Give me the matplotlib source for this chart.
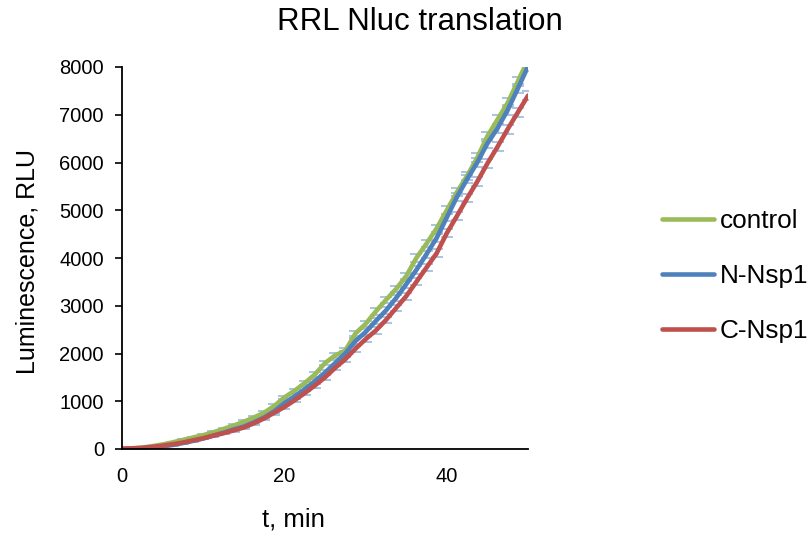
import numpy as np
import matplotlib.pyplot as plt

plt.rcParams["font.family"] = ["Liberation Sans", "DejaVu Sans"]

# time points, min (reading every 75 s)
t_min = [0, 1.25, 2.5, 3.75, 5, 6.25, 7.5, 8.75, 10, 11.25,
         12.5, 13.75, 15, 16.25, 17.5, 18.75, 20, 21.25, 22.5, 23.75,
         25, 26.25, 27.5, 28.75, 30, 31.25, 32.5, 33.75, 35, 36.25,
         37.5, 38.75, 40, 41.25, 42.5, 43.75, 45, 46.25, 47.5, 48.75, 50]

control = [0, 10, 30, 60, 95, 140, 190, 240, 290, 350,
           420, 490, 570, 660, 760, 900, 1080, 1220, 1380, 1560,
           1800, 1960, 2060, 2420, 2620, 2880, 3120, 3350, 3620, 4000,
           4300, 4620, 5000, 5380, 5720, 6100, 6550, 6900, 7250, 7700, 8150]

n_nsp1 = [-10, -5, 10, 30, 55, 85, 125, 170, 220, 280,
          340, 410, 470, 560, 660, 790, 960, 1100, 1250, 1420,
          1600, 1800, 2000, 2260, 2450, 2680, 2900, 3160, 3450, 3750,
          4080, 4420, 4850, 5280, 5650, 6000, 6400, 6720, 7100, 7550, 8010]

c_nsp1 = [10, 15, 25, 45, 70, 100, 135, 180, 225, 280,
          330, 390, 450, 540, 640, 760, 880, 1020, 1170, 1330,
          1500, 1700, 1880, 2100, 2300, 2480, 2700, 2950, 3200, 3500,
          3800, 4100, 4520, 4880, 5250, 5600, 5980, 6330, 6700, 7050, 7400]

# small replicate spread (RLU)
err_rlu = [0, 5, 5, 10, 10, 15, 15, 20, 20, 25,
           25, 30, 30, 35, 35, 40, 40, 45, 45, 50,
           50, 55, 55, 60, 60, 65, 65, 70, 70, 75,
           75, 80, 80, 85, 85, 90, 90, 95, 95, 100, 100]

series = [("control", control, "#9BBB59"),
          ("N-Nsp1", n_nsp1, "#4F81BD"),
          ("C-Nsp1", c_nsp1, "#C0504D")]

fig = plt.figure(figsize=(8.11, 5.37), dpi=100)
ax = fig.add_axes([122 / 811, 1 - 449 / 537, (528 - 122) / 811, (449 - 67) / 537])

t = np.array(t_min)
for name, vals, color in series:
    ax.errorbar(t, vals, yerr=err_rlu, fmt="none", ecolor="#a3bfe3",
                elinewidth=1, capsize=4.2, capthick=1.3, zorder=1)
for name, vals, color in series:
    ax.plot(t, vals, color=color, linewidth=3.3, label=name, zorder=2,
            solid_capstyle="round")

ax.set_xlim(0, 50)
ax.set_ylim(0, 8000)
ax.set_xticks([0, 20, 40])
ax.set_yticks(range(0, 8001, 1000))
ax.tick_params(axis="y", direction="out", length=5, width=1.2, labelsize=14.5, pad=8)
ax.tick_params(axis="x", length=0, labelsize=14.5, pad=13)
for side in ["top", "right"]:
    ax.spines[side].set_visible(False)
for side in ["left", "bottom"]:
    ax.spines[side].set_linewidth(1.3)
    ax.spines[side].set_color("black")

fig.text(420 / 811, 1 - 22 / 537, "RRL Nluc translation", ha="center", va="center", fontsize=22.5)
fig.text(293 / 811, 1 - 520 / 537, "t, min", ha="center", va="center", fontsize=18.5)
fig.text(28 / 811, 1 - 262 / 537, "Luminescence, RLU", ha="center", va="center",
         rotation=90, fontsize=18)

ax.legend(loc="center left", bbox_to_anchor=(662 / 811, 1 - 276 / 537),
          bbox_transform=fig.transFigure, frameon=False, fontsize=18.8,
          handlelength=2.0, handletextpad=0.2, labelspacing=1.2,
          borderpad=0, borderaxespad=0)

fig.savefig("out.png", dpi=100)
